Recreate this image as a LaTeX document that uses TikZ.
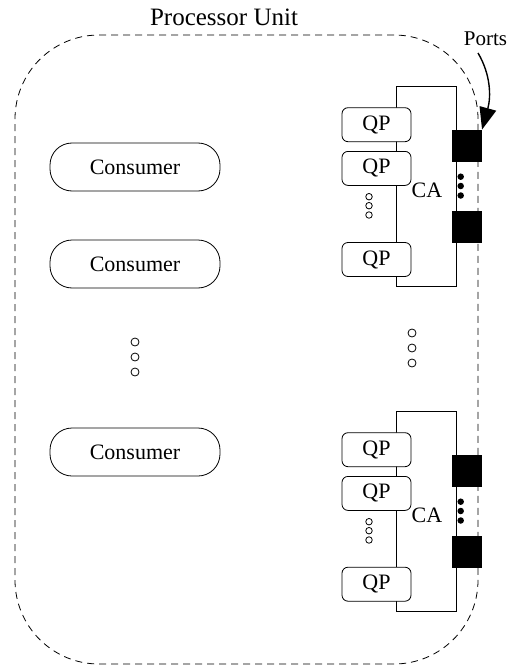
\documentclass[tikz,border=0pt]{standalone}
\usepackage{fontspec}
\setmainfont{Liberation Serif}
\usetikzlibrary{arrows.meta}
\begin{document}
\begin{tikzpicture}[x=1pt,y=-1pt, line width=0.8pt,
 consumer/.style={draw, rounded corners=22pt, minimum width=170pt, minimum height=48pt, inner sep=0pt, font=\fontsize{22}{24}\selectfont},
 qp/.style={draw, fill=white, rounded corners=6pt, minimum width=69pt, minimum height=34pt, inner sep=0pt, font=\fontsize{22}{24}\selectfont},
 cabox/.style={draw, minimum width=59.3pt, minimum height=199.3pt, inner sep=0pt},
 port/.style={draw, fill=black, minimum width=29.7pt, minimum height=31pt, inner sep=0pt},
 hollowdot/.style={draw, circle, minimum size=8pt, inner sep=0pt},
 smalldot/.style={draw, circle, minimum size=6.5pt, inner sep=0pt},
 blackdot/.style={fill, circle, minimum size=6.5pt, inner sep=0pt},
 lbl/.style={font=\fontsize{22}{24}\selectfont, inner sep=0pt},
 pu/.style={draw, dashed, dash pattern=on 7pt off 5pt, rounded corners=84pt, minimum width=463pt, minimum height=629pt, inner sep=0pt}
]
\useasboundingbox (0,0) rectangle (509,666);

% processor unit boundary
\node[pu] (unit) at (246.5,349.5) {};
\node[inner sep=0pt, font=\fontsize{25}{27}\selectfont] (title) at (224,17) {Processor Unit};

% consumers
\node[consumer] (c1) at (135,167) {Consumer};
\node[consumer] (c2) at (135,264) {Consumer};
\node[consumer] (c3) at (135,452) {Consumer};
\node[hollowdot] (cd1) at (135,342) {};
\node[hollowdot] (cd2) at (135,357) {};
\node[hollowdot] (cd3) at (135,372) {};

% middle dots
\node[hollowdot] (md1) at (412,333) {};
\node[hollowdot] (md2) at (412,348) {};
\node[hollowdot] (md3) at (412,363) {};

% top CA block
\node[cabox] (caA) at (426.35,186.35) {};
\node[qp] (qA1) at (376.5,124.7) {QP};
\node[qp] (qA2) at (376.5,168.4) {QP};
\node[qp] (qA3) at (376.5,259.5) {QP};
\node[smalldot] (sA1) at (369,196.7) {};
\node[smalldot] (sA2) at (369,205.7) {};
\node[smalldot] (sA3) at (369,215) {};
\node[lbl] (caAt) at (427,190) {CA};
\node[port] (pA1) at (466.8,145.5) {};
\node[port] (pA2) at (466.8,227.2) {};
\node[blackdot] (bA1) at (460.7,176.7) {};
\node[blackdot] (bA2) at (460.7,186) {};
\node[blackdot] (bA3) at (460.7,195.5) {};

% bottom CA block
\node[cabox] (caB) at (426.35,511.35) {};
\node[qp] (qB1) at (376.5,449.7) {QP};
\node[qp] (qB2) at (376.5,493.4) {QP};
\node[qp] (qB3) at (376.5,584.2) {QP};
\node[smalldot] (sB1) at (369,521.7) {};
\node[smalldot] (sB2) at (369,530.7) {};
\node[smalldot] (sB3) at (369,540) {};
\node[lbl] (caBt) at (427,515) {CA};
\node[port] (pB1) at (466.8,471) {};
\node[port] (pB2) at (466.8,552.2) {};
\node[blackdot] (bB1) at (460.7,501.7) {};
\node[blackdot] (bB2) at (460.7,511) {};
\node[blackdot] (bB3) at (460.7,520.5) {};

% ports label and arrow
\node[inner sep=0pt, font=\fontsize{21}{23}\selectfont] (ports) at (485.5,39) {Ports};
\coordinate (pstart) at (478,53);
\draw[line width=1.4pt, -{Triangle[length=22pt,width=17pt]}] (pstart) .. controls (491,75) and (491,97) .. (pA1.north east);

\end{tikzpicture}
\end{document}
